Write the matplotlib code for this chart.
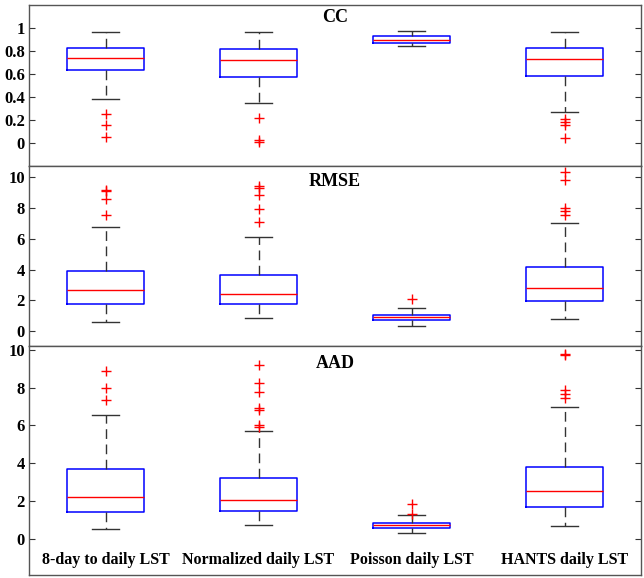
import numpy as np
import matplotlib
matplotlib.use('Agg')
import matplotlib.pyplot as plt
plt.rc('font', family='Liberation Serif', weight='bold', size=11)

methods = ['8-day to daily LST', 'Normalized daily LST', 'Poisson daily LST', 'HANTS daily LST']
panels = ['CC', 'RMSE', 'AAD']

# box statistics per panel: lower whisker, q1, median, q3, upper whisker
cc_low = [0.385, 0.347, 0.845, 0.273]
cc_q1 = [0.635, 0.578, 0.868, 0.586]
cc_med = [0.739, 0.722, 0.897, 0.730]
cc_q3 = [0.825, 0.819, 0.928, 0.825]
cc_high = [0.969, 0.963, 0.977, 0.966]
cc_out = [[0.256, 0.158, 0.054],
          [0.216, 0.026, 0.011],
          [],
          [0.213, 0.184, 0.155, 0.046]]

rmse_low = [0.62, 0.86, 0.36, 0.78]
rmse_q1 = [1.77, 1.77, 0.75, 1.98]
rmse_med = [2.65, 2.43, 0.91, 2.78]
rmse_q3 = [3.88, 3.64, 1.08, 4.18]
rmse_high = [6.77, 6.12, 1.51, 7.03]
rmse_out = [[9.15, 9.05, 8.54, 7.51],
            [9.40, 9.30, 8.80, 7.90, 7.08],
            [2.07],
            [10.3, 9.78, 8.0, 7.79, 7.51]]

aad_low = [0.51, 0.74, 0.30, 0.69]
aad_q1 = [1.45, 1.48, 0.58, 1.71]
aad_med = [2.21, 2.07, 0.72, 2.56]
aad_q3 = [3.69, 3.25, 0.85, 3.80]
aad_high = [6.55, 5.69, 1.25, 6.98]
aad_out = [[8.9, 7.98, 7.33],
           [9.22, 8.25, 7.75, 6.92, 6.83, 6.0, 5.92],
           [1.84, 1.31],
           [9.8, 9.7, 7.89, 7.66, 7.45]]

cc_ticks = [0, 0.2, 0.4, 0.6, 0.8, 1]
err_ticks = [0, 2, 4, 6, 8, 10]


def make_stats(low, q1, med, q3, high, out):
    stats = []
    for i in range(len(low)):
        stats.append({'whislo': low[i], 'q1': q1[i], 'med': med[i], 'q3': q3[i],
                      'whishi': high[i], 'fliers': out[i]})
    return stats


data = [make_stats(cc_low, cc_q1, cc_med, cc_q3, cc_high, cc_out),
        make_stats(rmse_low, rmse_q1, rmse_med, rmse_q3, rmse_high, rmse_out),
        make_stats(aad_low, aad_q1, aad_med, aad_q3, aad_high, aad_out)]

ylims = [(-0.2, 1.2), (-0.95, 10.7), (-1.9, 10.2)]
yticks = [cc_ticks, err_ticks, err_ticks]
# panel edges in pixels from top of a 578 px figure
edges = [5, 166, 346, 575]
title_top = [9, 173, 355]

fig = plt.figure(figsize=(6.44, 5.78), dpi=100)
axes = []
for k in range(3):
    top = 1 - edges[k] / 578.0
    bot = 1 - edges[k + 1] / 578.0
    ax = fig.add_axes([29 / 644.0, bot, 612 / 644.0, top - bot])
    axes.append(ax)
    pos = np.arange(1, len(methods) + 1)
    ax.bxp(data[k], positions=pos, widths=0.5, capwidths=0.18,
           boxprops=dict(color='#0000ff', linewidth=1.1),
           medianprops=dict(color='#ff0000', linewidth=1.0),
           whiskerprops=dict(color='#333333', linewidth=1.0, linestyle=(0, (7, 4))),
           capprops=dict(color='#333333', linewidth=1.0),
           flierprops=dict(marker='+', markeredgecolor='#ff0000', markersize=7.5,
                           markeredgewidth=1.0, linestyle='none'))
    ax.set_xlim(0.5, 4.5)
    ax.set_ylim(*ylims[k])
    ax.set_yticks(yticks[k])
    ax.set_yticklabels([('%g' % t) for t in yticks[k]])
    ax.set_xticks([])
    ax.tick_params(axis='y', direction='in', length=4, right=True, width=0.8,
                   color='#333333', labelsize=12, pad=3)
    for s in ax.spines.values():
        s.set_color('#555555')
        s.set_linewidth(1.0)
    ax.text(335 / 644.0, 1 - title_top[k] / 578.0, panels[k], transform=fig.transFigure,
            ha='center', va='top', fontsize=13, fontweight='bold')

# category labels sit inside the bottom panel
for i in range(len(methods)):
    axes[2].text(i + 1, -1.12, methods[i], ha='center', va='center',
                 fontsize=11.5, fontweight='bold')

plt.savefig('out.png', dpi=100)
plt.close()
